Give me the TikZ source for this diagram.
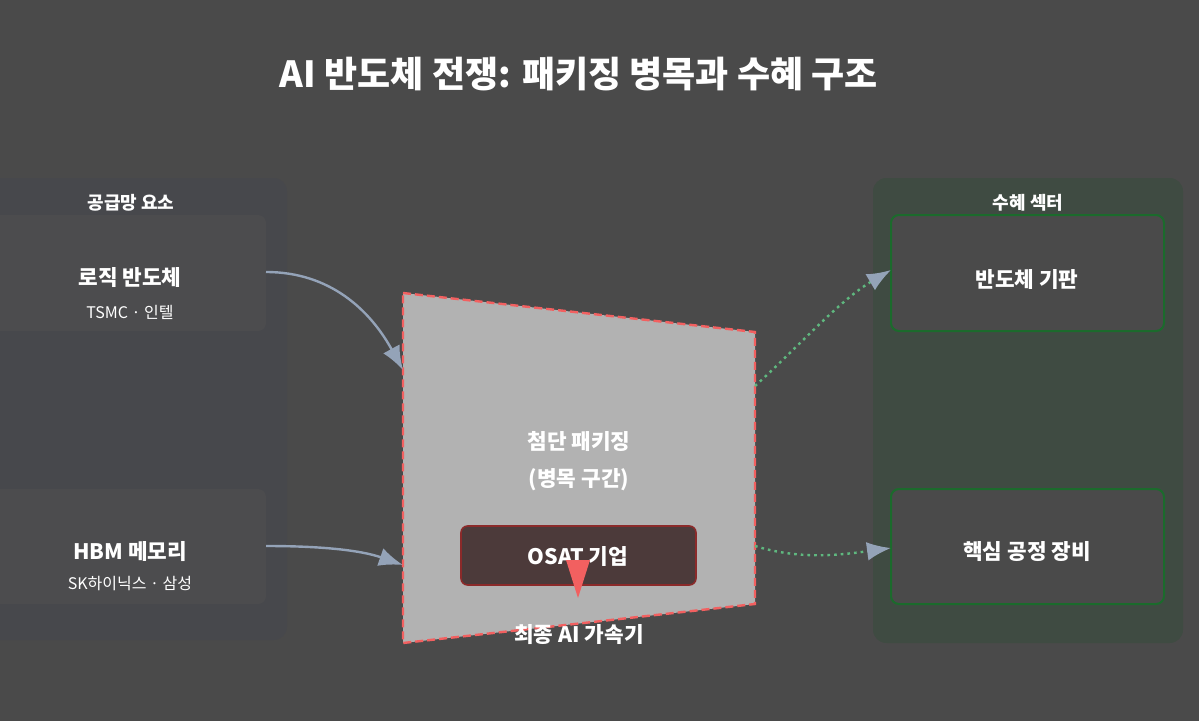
\documentclass[tikz,border=0pt]{standalone}
\usepackage{fontspec}
\setmainfont{Noto Sans CJK KR}
\usetikzlibrary{arrows.meta}
\definecolor{bg}{HTML}{4A4A4A}
\definecolor{lpanel}{HTML}{47484C}
\definecolor{rpanel}{HTML}{3F4B42}
\definecolor{boxf}{HTML}{4C4C4E}
\definecolor{gbord}{HTML}{1B6B2C}
\definecolor{arr}{HTML}{94A3B8}
\definecolor{garr}{HTML}{5FB87F}
\definecolor{redd}{HTML}{F26060}
\definecolor{osatf}{HTML}{4C3A3A}
\definecolor{osatd}{HTML}{8B2A2A}
\begin{document}
\begin{tikzpicture}[x=0.75pt,y=-0.75pt,
 tx/.style={text=white,font=\bfseries},
 big/.style={tx,font=\bfseries\fontsize{16}{19}\selectfont},
 small/.style={text=white,font=\fontsize{12}{14}\selectfont},
 lbox/.style={fill=boxf,rounded corners=6pt},
 rbox/.style={fill=bg,draw=gbord,line width=1.5pt,rounded corners=6pt},
 ca/.style={draw=arr,line width=1.8pt,-{Latex[length=18pt,width=14pt]}},
 ga/.style={draw=garr,line width=1.8pt,dash pattern=on 2pt off 3pt,-{Latex[length=18pt,width=14pt,fill=arr,color=arr]}}]
\fill[bg] (0,0) rectangle (1199,721);
\useasboundingbox (0,0) rectangle (1199,721);
\node[tx,font=\bfseries\fontsize{27}{32}\selectfont] (title) at (579,74) {AI 반도체 전쟁: 패키징 병목과 수혜 구조};
\fill[lpanel,rounded corners=10pt] (-20,178) rectangle (287,640);
\node[tx,font=\bfseries\fontsize{13.5}{16}\selectfont] (lt) at (131,203) {공급망 요소};
\fill[rpanel,rounded corners=10pt] (873,178) rectangle (1183,643);
\node[tx,font=\bfseries\fontsize{13.5}{16}\selectfont] (rt) at (1028,203) {수혜 섹터};
\fill[lbox] (-20,215) rectangle (266,331);
\node[big] (l1) at (130,278) {로직 반도체};
\node[small] (l2) at (130,312) {TSMC · 인텔};
\fill[lbox] (-20,489) rectangle (266,604);
\node[big] (h1) at (130,552) {HBM 메모리};
\node[small] (h2) at (130,584) {SK하이닉스 · 삼성};
\draw[rbox] (891,215) rectangle (1164,331);
\node[big] (s1) at (1027,279) {반도체 기판};
\draw[rbox] (891,489) rectangle (1164,604);
\node[big] (s2) at (1027,552) {핵심 공정 장비};
\draw[redd,fill=gray!60!white,line width=1.8pt,dash pattern=on 6pt off 3pt] (403,293) coordinate (p1) -- (755,332) coordinate (p2) -- (755,604) coordinate (p3) -- (403,643) coordinate (p4) -- cycle;
\node[big,align=center] (pk) at (579,461) {첨단 패키징\\[9pt](병목 구간)};
\draw[fill=osatf,draw=osatd,line width=1.2pt,rounded corners=5pt] (461,526) rectangle (696,585);
\node[big] (osat) at (578,556) {OSAT 기업};
\node[big] (acc) at (579,635) {최종 AI 가속기};
\coordinate (a1) at (266,272); \coordinate (a2) at (403,370);
\coordinate (b1) at (266,546); \coordinate (b2) at (403,565);
\draw[ca] (a1) .. controls (330,272) and (370,310) .. (a2);
\draw[ca] (b1) .. controls (320,546) and (360,550) .. (b2);
\coordinate (c1) at (755,386); \coordinate (c2) at (891,270);
\coordinate (d1) at (755,546); \coordinate (d2) at (891,548);
\draw[ga] (c1) .. controls (800,345) and (840,300) .. (c2);
\draw[ga] (d1) .. controls (800,560) and (840,555) .. (d2);
\coordinate (e1) at (578,560); \coordinate (e2) at (578,598);
\fill[redd] (566,560) -- (590,560) -- (e2) -- cycle;
\end{tikzpicture}
\end{document}
